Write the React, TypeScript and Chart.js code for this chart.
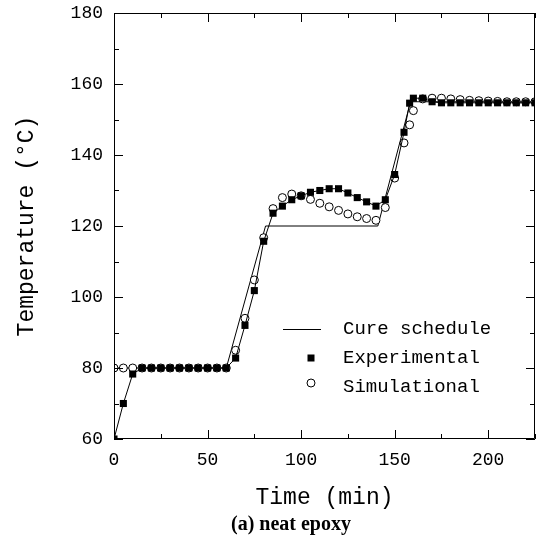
import React, { useEffect, useRef } from "react";
import { Chart, registerables } from "chart.js";

Chart.register(...registerables);

// ---- data ----
const cureTime = [0, 60, 81, 141, 158.5, 225];
const cureTemp = [80, 80, 120, 120, 155, 155];

const expTime = [0, 5, 10, 15, 20, 25, 30, 35, 40, 45, 50, 55, 60, 65, 70, 75, 80, 85, 90, 95, 100, 105, 110, 115, 120, 125, 130, 135, 140, 145, 150, 155, 158, 160, 165, 170, 175, 180, 185, 190, 195, 200, 205, 210, 215, 220, 225];
const expTemp = [60, 70, 78.3, 80, 80, 80, 80, 80, 80, 80, 80, 80, 80, 82.8, 92, 101.8, 115.7, 123.6, 125.6, 127.4, 128.5, 129.5, 130, 130.5, 130.5, 129.3, 128, 126.8, 125.6, 127.4, 134.5, 146.4, 154.6, 156, 156, 155, 154.7, 154.7, 154.7, 154.7, 154.7, 154.7, 154.7, 154.7, 154.7, 154.7, 154.7];

const simTime = [0, 5, 10, 15, 20, 25, 30, 35, 40, 45, 50, 55, 60, 65, 70, 75, 80, 85, 90, 95, 100, 105, 110, 115, 120, 125, 130, 135, 140, 145, 150, 155, 158, 160, 165, 170, 175, 180, 185, 190, 195, 200, 205, 210, 215, 220, 225];
const simTemp = [80, 80, 80, 80, 80, 80, 80, 80, 80, 80, 80, 80, 80, 85, 94, 104.8, 116.7, 124.9, 128, 129, 128.5, 127.5, 126.4, 125.4, 124.4, 123.4, 122.6, 122.1, 121.6, 125.2, 133.5, 143.4, 148.5, 152.5, 155.8, 156, 156, 155.8, 155.6, 155.4, 155.3, 155.2, 155.1, 155, 155, 155, 155];

const legendLabels = ["Cure schedule", "Experimental", "Simulational"];
const xTitle = "Time (min)";
const yTitle = "Temperature (\u00B0C)";
const caption = "(a) neat epoxy";

const MONO = "'Liberation Mono', 'DejaVu Sans Mono', monospace";

const framePlugin = {
  id: "frameTicks",
  afterDatasetsDraw(chart: any) {
    const { ctx, chartArea: a, scales } = chart;
    const xs = scales.x;
    const ys = scales.y;
    ctx.save();
    ctx.strokeStyle = "#000";
    ctx.lineWidth = 1;
    ctx.beginPath();
    ctx.rect(a.left + 0.5, a.top + 0.5, a.right - a.left - 1, a.bottom - a.top - 1);
    ctx.stroke();
    ctx.beginPath();
    xs.ticks.forEach((t: any) => {
      const px = Math.round(xs.getPixelForValue(t.value)) + 0.5;
      const len = t.value % 50 === 0 ? 9 : 5;
      ctx.moveTo(px, a.bottom);
      ctx.lineTo(px, a.bottom - len);
      ctx.moveTo(px, a.top);
      ctx.lineTo(px, a.top + len);
    });
    ys.ticks.forEach((t: any) => {
      const py = Math.round(ys.getPixelForValue(t.value)) + 0.5;
      const len = t.value % 20 === 0 ? 9 : 5;
      ctx.moveTo(a.left, py);
      ctx.lineTo(a.left + len, py);
      ctx.moveTo(a.right, py);
      ctx.lineTo(a.right - len, py);
    });
    ctx.stroke();

    // legend
    const lx = 283;
    const tx = 343;
    const rows = [329, 358, 387];
    ctx.fillStyle = "#000";
    ctx.font = "19px " + MONO;
    ctx.textBaseline = "middle";
    ctx.textAlign = "left";
    ctx.beginPath();
    ctx.moveTo(lx, rows[0] + 0.5);
    ctx.lineTo(lx + 38, rows[0] + 0.5);
    ctx.stroke();
    ctx.fillRect(311 - 3.5, rows[1] - 3.5, 7, 7);
    ctx.beginPath();
    ctx.arc(311, rows[2] - 4, 4, 0, Math.PI * 2);
    ctx.fillStyle = "#fff";
    ctx.fill();
    ctx.stroke();
    ctx.fillStyle = "#000";
    legendLabels.forEach((l, i) => ctx.fillText(l, tx, rows[i]));
    ctx.restore();
  },
};

export default function App() {
  const ref = useRef<HTMLCanvasElement>(null);
  useEffect(() => {
    const chart = new Chart(ref.current as HTMLCanvasElement, {
      type: "line",
      data: {
        datasets: [
          {
            label: legendLabels[1],
            data: expTime.map((x, i) => ({ x, y: expTemp[i] })),
            borderColor: "#000",
            borderWidth: 1,
            backgroundColor: "#000",
            pointStyle: "rect",
            pointRadius: 5,
            pointBorderWidth: 0,
            order: 0,
          },
          {
            label: legendLabels[2],
            data: simTime.map((x, i) => ({ x, y: simTemp[i] })),
            showLine: false,
            borderColor: "#000",
            backgroundColor: "#fff",
            pointStyle: "circle",
            pointRadius: 4,
            pointBorderWidth: 1,
            order: 1,
          },
          {
            label: legendLabels[0],
            data: cureTime.map((x, i) => ({ x, y: cureTemp[i] })),
            borderColor: "#000",
            borderWidth: 1,
            pointRadius: 0,
            order: 2,
          },
        ],
      },
      options: {
        animation: false,
        responsive: true,
        maintainAspectRatio: false,
        layout: { padding: { top: 13, right: 4, left: 0, bottom: 0 } },
        plugins: { legend: { display: false }, tooltip: { enabled: false } },
        scales: {
          x: {
            type: "linear",
            min: 0,
            max: 225,
            grid: { display: false, drawTicks: false },
            border: { display: false },
            ticks: {
              stepSize: 25,
              padding: 10,
              maxRotation: 0,
              autoSkip: false,
              color: "#000",
              font: { family: MONO, size: 18 },
              callback: (v: any) => (v % 50 === 0 ? String(v) : ""),
            },
            title: {
              display: true,
              text: xTitle,
              color: "#000",
              font: { family: MONO, size: 23 },
              padding: { top: 0, bottom: 38 },
            },
            afterFit: (s: any) => {
              s.height = 111;
              s.paddingLeft = 0;
              s.paddingRight = 0;
            },
          },
          y: {
            min: 60,
            max: 180,
            grid: { display: false, drawTicks: false },
            border: { display: false },
            ticks: {
              stepSize: 10,
              padding: 11,
              autoSkip: false,
              color: "#000",
              font: { family: MONO, size: 18 },
              callback: (v: any) => (v % 20 === 0 ? String(v) : ""),
            },
            title: {
              display: true,
              text: yTitle,
              color: "#000",
              font: { family: MONO, size: 23 },
              padding: { top: 13, bottom: 0 },
            },
            afterFit: (s: any) => {
              s.width = 114;
              s.paddingTop = 0;
              s.paddingBottom = 0;
            },
          },
        },
      },
      plugins: [framePlugin],
    });
    return () => chart.destroy();
  }, []);

  return (
    <div style={{ position: "fixed", left: 0, top: 0, width: 540, height: 550, background: "#fff" }}>
      <canvas ref={ref} />
      <div
        style={{
          position: "absolute",
          left: 191,
          width: 200,
          top: 511,
          textAlign: "center",
          fontFamily: "'Liberation Serif', serif",
          fontWeight: "bold",
          fontSize: 20,
          color: "#000",
          lineHeight: "24px",
        }}
      >
        {caption}
      </div>
    </div>
  );
}
